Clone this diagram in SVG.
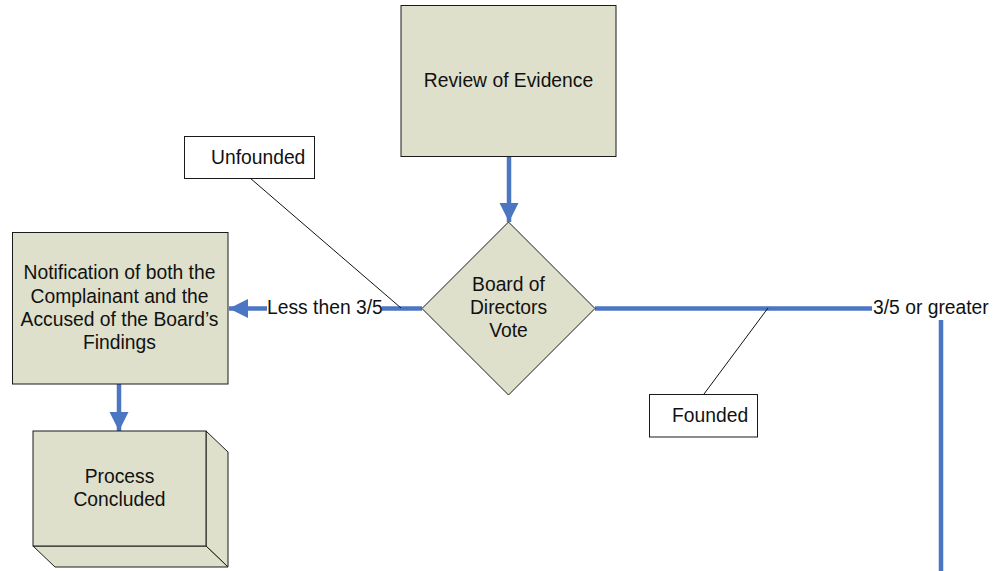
<svg xmlns="http://www.w3.org/2000/svg" width="993" height="571" viewBox="0 0 993 571">
<style>
.box{fill:#dee0cb;stroke:#1a1a1a;stroke-width:1}
.side{fill:#dee0cb;stroke:#1a1a1a;stroke-width:1}
.note{fill:#ffffff;stroke:#1a1a1a;stroke-width:1}
.t{font-family:"Liberation Sans",Arial,sans-serif;font-size:19.3px;fill:#111111}
.c{text-anchor:middle}
.flow{fill:none;stroke:#4a76c2;stroke-width:4.5}
.lead{fill:none;stroke:#111111;stroke-width:1}
</style>
<defs>
<marker id="ah" markerUnits="userSpaceOnUse" markerWidth="20" markerHeight="20" refX="19" refY="9.5" orient="auto">
<path d="M0,0 L19,9.5 L0,19 z" fill="#4a76c2"/>
</marker>
</defs>
<rect width="993" height="571" fill="#ffffff"/>
<g id="connectors">
<line class="flow" x1="509" y1="157" x2="509" y2="222" marker-end="url(#ah)"/>
<line class="flow" x1="422" y1="308.5" x2="382" y2="308.5"/>
<line class="flow" x1="267" y1="308.5" x2="229" y2="308.5" marker-end="url(#ah)"/>
<line class="flow" x1="595" y1="308.5" x2="872" y2="308.5"/>
<line class="flow" x1="941" y1="320" x2="941" y2="571"/>
<line class="flow" x1="119" y1="384" x2="119" y2="431" marker-end="url(#ah)"/>
<line class="lead" x1="250" y1="178" x2="401" y2="308"/>
<line class="lead" x1="768" y1="308" x2="704" y2="394"/>
<text class="t" x="267" y="314.3">Less then 3/5</text>
<text class="t" x="873" y="314.3">3/5 or greater</text>
</g>
<g id="review">
<rect class="box" x="401" y="5.5" width="215" height="151"/>
<text class="t c" x="508.5" y="87.3">Review of Evidence</text>
</g>
<g id="vote">
<polygon class="box" points="508.5,222 595,308.5 508.5,395 422,308.5"/>
<text class="t c" x="508.5" y="291.3">Board of</text>
<text class="t c" x="508.5" y="314.3">Directors</text>
<text class="t c" x="508.5" y="337">Vote</text>
</g>
<g id="unfounded">
<rect class="note" x="184.5" y="136.5" width="130" height="42"/>
<text class="t" x="211" y="163.5">Unfounded</text>
</g>
<g id="founded">
<rect class="note" x="649.5" y="394.5" width="108" height="42.5"/>
<text class="t" x="672" y="422">Founded</text>
</g>
<g id="notification">
<rect class="box" x="12.5" y="232.5" width="215.5" height="151.5"/>
<text class="t c" x="119.5" y="279.3">Notification of both the</text>
<text class="t c" x="119.5" y="302.7">Complainant and the</text>
<text class="t c" x="119.5" y="326">Accused of the Board’s</text>
<text class="t c" x="119.5" y="349.3">Findings</text>
</g>
<g id="process">
<polygon class="side" points="206,431 228,452 228,567 206,546"/>
<polygon class="side" points="33,546 206,546 228,567 55,567"/>
<rect class="box" x="33" y="431" width="173" height="115"/>
<text class="t c" x="119.5" y="483.3">Process</text>
<text class="t c" x="119.5" y="506">Concluded</text>
</g>
</svg>
